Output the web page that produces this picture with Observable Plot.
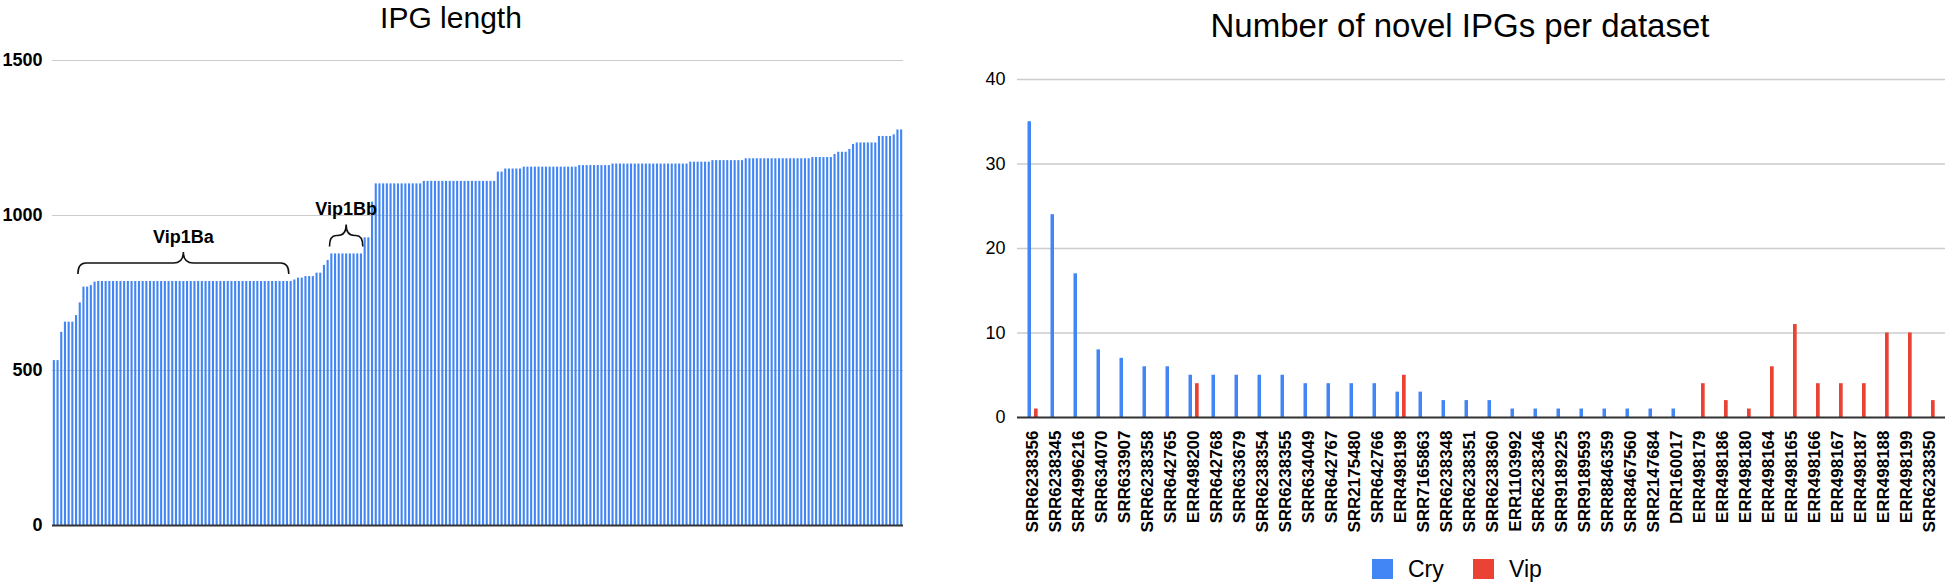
<!DOCTYPE html>
<html><head><meta charset="utf-8">
<script src="https://cdn.jsdelivr.net/npm/d3@7"></script>
<script src="https://cdn.jsdelivr.net/npm/@observablehq/plot@0.6"></script>
<style>
html,body{margin:0;padding:0;background:#fff;}
body{width:1945px;height:583px;position:relative;overflow:hidden;font-family:"Liberation Sans",Arial,sans-serif;color:#000;}
.abs{position:absolute;}
.title{white-space:nowrap;text-align:center;}
</style></head><body>
<div id="left" class="abs" style="left:0;top:0;"></div>
<div id="right" class="abs" style="left:960px;top:0;"></div>
<div class="abs title" style="left:0;width:902px;top:1px;font-size:30px;line-height:normal;">IPG length</div>
<div class="abs title" style="left:960px;width:1000px;top:7px;font-size:33px;line-height:normal;">Number of novel IPGs per dataset</div>
<div id="legend"></div>
<script>
const FONT = '"Liberation Sans", Arial, sans-serif';

// ---- Left chart: IPG length (sorted) ----
const ipgLength = [
  532, 532, 623, 656, 656, 656, 677, 718, 769, 769,
  774, 785,
  787, 787, 787, 787, 787, 787, 787, 787, 787, 787,
  787, 787, 787, 787, 787, 787, 787, 787, 787, 787,
  787, 787, 787, 787, 787, 787, 787, 787, 787, 787,
  787, 787, 787, 787, 787, 787, 787, 787, 787, 787,
  787, 787, 787, 787, 787, 787, 787, 787, 787, 787,
  787, 787, 787,
  792, 798, 798, 803, 803, 803, 814, 814, 839, 855,
  876, 876, 876, 876, 876, 876, 876, 876, 876,
  928, 928, 1043,
  1102, 1102, 1102, 1102, 1102, 1102, 1102, 1102, 1102, 1102, 1102, 1102, 1102,
  1110, 1110, 1110, 1110, 1110, 1110, 1110, 1110, 1110, 1110,
  1110, 1110, 1110, 1110, 1110, 1110, 1110, 1110, 1110, 1110,
  1140, 1140, 1150, 1150, 1150, 1150, 1150,
  1156, 1156, 1156, 1156, 1156, 1156, 1156, 1156, 1156, 1156,
  1156, 1156, 1156, 1156, 1156,
  1161, 1161, 1161, 1161, 1161, 1161, 1161, 1161, 1161,
  1166, 1166, 1166, 1166, 1166, 1166, 1166, 1166, 1166, 1166,
  1166, 1166, 1166, 1166, 1166, 1166, 1166, 1166, 1166, 1166,
  1166,
  1172, 1172, 1172, 1172, 1172, 1172,
  1177, 1177, 1177, 1177, 1177, 1177, 1177, 1177, 1177,
  1183, 1183, 1183, 1183, 1183, 1183, 1183, 1183, 1183, 1183,
  1183, 1183, 1183, 1183, 1183, 1183, 1183, 1183,
  1187, 1187, 1187, 1187, 1187, 1187,
  1197, 1204, 1204, 1204, 1213, 1229,
  1234, 1234, 1234, 1234, 1234, 1234,
  1255, 1255, 1255, 1255, 1260, 1276, 1276
];
const lengthTicks = [0, 500, 1000, 1500];
const groupLabels = ["Vip1Ba", "Vip1Bb"];
const groupFirst = [7, 75];
const groupLast = [63, 83];

// ---- Right chart: novel IPGs per dataset ----
const datasets = ["SRR6238356","SRR6238345","SRR4996216","SRR634070","SRR633907","SRR6238358","SRR642765","ERR498200","SRR642768","SRR633679",
  "SRR6238354","SRR6238355","SRR634049","SRR642767","SRR2175480","SRR642766","ERR498198","SRR7165863","SRR6238348","SRR6238351",
  "SRR6238360","ERR1103992","SRR6238346","SRR9189225","SRR9189593","SRR8846359","SRR8467560","SRR2147684","DRR160017","ERR498179",
  "ERR498186","ERR498180","ERR498164","ERR498165","ERR498166","ERR498167","ERR498187","ERR498188","ERR498199","SRR6238350"];
const cry = [35,24,17,8,7,6,6,5,5,5, 5,5,4,4,4,4,3,3,2,2, 2,1,1,1,1,1,1,1,1,0, 0,0,0,0,0,0,0,0,0,0];
const vip = [1,0,0,0,0,0,0,4,0,0, 0,0,0,0,0,0,5,0,0,0, 0,0,0,0,0,0,0,0,0,4, 2,1,6,11,4,4,4,10,10,2];
const countTicks = [0, 10, 20, 30, 40];
const seriesNames = ["Cry", "Vip"];
const seriesColors = ["#4285F4", "#EA4335"];

// brace annotation mark drawn through the plot's scales
function braces(index, scales) {
  const x = scales.x, y = scales.y;
  const g = d3.create("svg:g");
  groupLabels.forEach((label, k) => {
    const xa = x(groupFirst[k]), xb = x(groupLast[k] + 1), xm = (xa + xb) / 2;
    const top = y(d3.max(ipgLength.slice(groupFirst[k], groupLast[k] + 1)));
    const yE = top - 7, yA = top - 18, yP = top - 29;
    const re = Math.min(8, (xb - xa) / 5), rm = Math.min(10, (xb - xa) / 4);
    const d = `M${xa},${yE}Q${xa},${yA} ${xa + re},${yA}L${xm - rm},${yA}Q${xm},${yA} ${xm},${yP}` +
              `Q${xm},${yA} ${xm + rm},${yA}L${xb - re},${yA}Q${xb},${yA} ${xb},${yE}`;
    g.append("path").attr("d", d).attr("fill", "none").attr("stroke", "#111").attr("stroke-width", 1.6);
    g.append("text").attr("x", xm).attr("y", yP - 9).attr("text-anchor", "middle")
      .attr("font-weight", "bold").attr("font-size", 18).attr("fill", "#000").text(label);
  });
  return g.node();
}

const left = Plot.plot({
  width: 940, height: 560,
  marginLeft: 52, marginRight: 37, marginTop: 60, marginBottom: 35,
  style: {fontFamily: FONT, fontSize: "18px", fontWeight: "bold", color: "#000", background: "transparent"},
  x: {domain: [0, ipgLength.length], axis: null},
  y: {domain: [0, 1500], ticks: lengthTicks, tickSize: 0, tickPadding: 10, label: null, tickFormat: "d"},
  marks: [
    Plot.ruleY(lengthTicks.filter(t => t > 0), {stroke: "#cccccc", strokeWidth: 1}),
    Plot.rectY(ipgLength, {x1: (d, i) => i, x2: (d, i) => i + 1, y: d => d, fill: "#4285F4", insetLeft: 0.8, insetRight: 0.8}),
    Plot.ruleY([0], {stroke: "#333", strokeWidth: 2}),
    braces
  ]
});
document.getElementById("left").appendChild(left);

const rows = datasets.map((name, i) => ({name, cry: cry[i], vip: vip[i]}));
const RW = 985, RML = 61, RMR = 4;
const half = (RW - RML - RMR) / datasets.length / 2;
const right = Plot.plot({
  width: RW, height: 545,
  marginLeft: RML, marginRight: RMR, marginTop: 79, marginBottom: 128,
  style: {fontFamily: FONT, fontSize: "17px", fontWeight: "bold", color: "#000", background: "transparent"},
  x: {domain: datasets, padding: 0, tickRotate: -90, tickSize: 0, tickPadding: 13, label: null},
  y: {domain: [0, 40], ticks: countTicks, tickSize: 0, tickPadding: 16, label: null},
  marks: [
    Plot.ruleY(countTicks.filter(t => t > 0), {stroke: "#cccccc", strokeWidth: 1.5, insetLeft: -4, insetRight: -4}),
    Plot.barY(rows, {x: "name", y: "cry", fill: seriesColors[0], insetLeft: half - 5, insetRight: half + 1.5}),
    Plot.barY(rows, {x: "name", y: "vip", fill: seriesColors[1], insetLeft: half + 1.5, insetRight: half - 5.2}),
    Plot.ruleY([0], {stroke: "#333", strokeWidth: 2, insetLeft: -4, insetRight: -4})
  ]
});
right.querySelectorAll('g[aria-label^="y-axis"] text').forEach(t => {
  t.style.fontWeight = "normal"; t.style.fontSize = "18px";
});
document.getElementById("right").appendChild(right);

// legend
const legend = document.getElementById("legend");
const legendX = [1372, 1473];
seriesNames.forEach((name, i) => {
  const sw = document.createElement("div");
  sw.className = "abs";
  sw.style.cssText = `left:${legendX[i]}px;top:559px;width:21px;height:20px;background:${seriesColors[i]};`;
  legend.appendChild(sw);
  const tx = document.createElement("div");
  tx.className = "abs";
  tx.style.cssText = `left:${legendX[i] + 36}px;top:558px;font-size:23px;line-height:23px;white-space:nowrap;`;
  tx.textContent = name;
  legend.appendChild(tx);
});
</script>
</body></html>
